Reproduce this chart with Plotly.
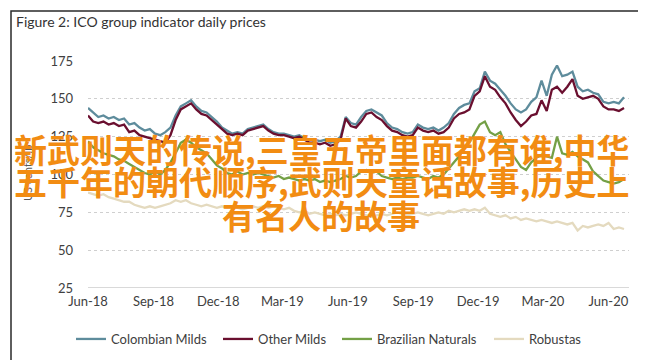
import datetime as dt
import plotly.graph_objects as go

# ---------------- data (readings, US cents/lb) ----------------
start_date = "2018-06-01"
end_date = "2020-06-23"

colombian_milds = [
    144, 141, 138, 139, 137, 138, 136, 137, 133, 134, 131, 129, 130, 127, 126, 128,
    131, 139, 145, 147, 149, 145, 142, 141, 138, 135, 131, 129, 127, 128, 127, 130,
    131, 132, 133, 130, 128, 127, 127, 126, 125, 126, 124, 123, 123, 122, 123, 121,
    122, 125, 138, 134, 133, 138, 142, 143, 141, 139, 134, 131, 130, 128, 127, 128,
    133, 131, 130, 131, 129, 131, 134, 140, 144, 146, 147, 155, 157, 168, 162, 160,
    156, 152, 147, 143, 141, 143, 148, 151, 162, 152, 166, 172, 165, 166, 168, 158,
    155, 156, 154, 153, 148, 147, 148, 147, 151,
]
other_milds = [
    139, 135, 134, 135, 133, 134, 132, 133, 128, 129, 126, 125, 124, 123, 122, 121,
    126, 136, 143, 145, 147, 143, 140, 139, 136, 133, 130, 127, 126, 127, 126, 129,
    130, 131, 132, 129, 127, 126, 126, 125, 124, 125, 123, 121, 121, 120, 121, 119,
    120, 123, 137, 132, 131, 135, 140, 141, 138, 136, 132, 129, 128, 126, 125, 126,
    131, 129, 128, 129, 127, 128, 131, 137, 140, 141, 143, 152, 155, 165, 158, 156,
    151, 147, 141, 136, 132, 135, 139, 140, 149, 142, 156, 158, 154, 158, 163, 152,
    150, 151, 152, 150, 145, 143, 143, 142, 144,
]
brazilian_naturals = [
    122, 118, 116, 114, 113, 112, 110, 109, 107, 105, 103, 101, 100, 102, 100, 103,
    108, 114, 121, 123, 121, 118, 116, 114, 110, 106, 104, 101, 100, 102, 100, 101,
    100, 101, 100, 99, 98, 99, 97, 98, 97, 96, 97, 96, 97, 95, 96, 95,
    96, 97, 99, 98, 99, 102, 103, 101, 102, 99, 98, 97, 98, 97, 98, 98,
    99, 98, 97, 99, 98, 100, 104, 108, 112, 117, 121, 127, 133, 135, 128, 126,
    128, 120, 115, 110, 105, 103, 108, 111, 113, 112, 111, 125, 114, 113, 115, 112,
    110, 108, 102, 99, 96, 95, 94, 95, 97,
]
robustas = [
    88, 87, 86, 87, 85, 84, 83, 82, 82, 80, 79, 78, 79, 78, 79, 80,
    81, 83, 82, 83, 81, 80, 79, 80, 79, 78, 79, 78, 79, 78, 77, 78,
    79, 78, 79, 78, 79, 78, 77, 78, 76, 75, 76, 74, 75, 74, 73, 74,
    73, 74, 73, 74, 75, 74, 73, 72, 73, 74, 73, 74, 75, 74, 73, 74,
    75, 74, 73, 74, 75, 74, 76, 75, 76, 77, 76, 77, 76, 78, 74, 73,
    72, 73, 71, 72, 70, 71, 70, 69, 70, 69, 68, 69, 68, 67, 68, 63,
    66, 65, 66, 67, 66, 68, 64, 65, 64,
]

series_names = ["Colombian Milds", "Other Milds", "Brazilian Naturals", "Robustas"]
series_values = [colombian_milds, other_milds, brazilian_naturals, robustas]
series_colors = ["#5e8c9c", "#6a0f2f", "#74a046", "#e4dabf"]

x_tick_dates = ["2018-06-01", "2018-09-01", "2018-12-01", "2019-03-01", "2019-06-01",
                "2019-09-01", "2019-12-01", "2020-03-01", "2020-06-01"]
x_tick_labels = ["Jun-18", "Sep-18", "Dec-18", "Mar-19", "Jun-19",
                 "Sep-19", "Dec-19", "Mar-20", "Jun-20"]
y_ticks = [25, 50, 75, 100, 125, 150, 175]

title_text = "Figure 2: ICO group indicator daily prices"
y_title = "US cents/lb"
watermark_lines = ["新武则天的传说,三皇五帝里面都有谁,中华",
                   "五千年的朝代顺序,武则天童话故事,历史上",
                   "有名人的故事"]

# ---------------- figure ----------------
W, H = 646, 360
L, R, T, B = 80, 621, 53, 280   # plot area in pixels


def px_x(p):
    return (p - L) / (R - L)


def px_y(p):
    return (B - p) / (B - T)


n = len(colombian_milds)
d0 = dt.datetime.fromisoformat(start_date)
d1 = dt.datetime.fromisoformat(end_date)
dates = [d0 + (d1 - d0) * i / (n - 1) for i in range(n)]

legend_ids = ["legend", "legend2", "legend3", "legend4"]
legend_text_starts = [108, 255, 374, 526]

fig = go.Figure()
for name, vals, col, lid in zip(series_names, series_values, series_colors, legend_ids):
    fig.add_trace(go.Scatter(x=dates, y=vals, name=name, mode="lines", legend=lid,
                             line=dict(color=col, width=2.3)))

font_fam = "Lato, 'Open Sans', sans-serif"
legend_layout = {}
for lid, st in zip(legend_ids, legend_text_starts):
    legend_layout[lid] = dict(orientation="h", x=px_x(st - 45), xanchor="left",
                              y=px_y(331), yanchor="middle", itemwidth=30,
                              font=dict(size=13, color="#404040", family=font_fam),
                              bgcolor="rgba(0,0,0,0)")

fig.update_layout(
    width=W, height=H,
    margin=dict(l=L, r=W - R, t=T, b=H - B),
    paper_bgcolor="white", plot_bgcolor="white",
    font=dict(family=font_fam, color="#404040", size=13),
    title=dict(text=title_text, x=8 / W, xanchor="left", y=1 - 14 / H, yanchor="middle",
               font=dict(size=14, color="#333333", family=font_fam)),
    showlegend=True,
    xaxis=dict(type="date", range=["2018-06-01", "2020-06-30"],
               tickvals=x_tick_dates, ticktext=x_tick_labels,
               showgrid=False, zeroline=False, showline=False,
               ticks="", ticklabelstandoff=4,
               tickfont=dict(size=13, color="#404040")),
    yaxis=dict(range=[25, 175], tickvals=y_ticks, showgrid=True, gridcolor="#cfcfcf",
               griddash="dot", gridwidth=1, zeroline=False, showline=False, ticks="",
               ticklabelstandoff=14, tickfont=dict(size=13, color="#404040")),
    **legend_layout,
)

# solid baseline at 25
fig.add_shape(type="line", xref="paper", yref="y", x0=0, x1=1, y0=25, y1=25,
              line=dict(color="#d9d9d9", width=2), layer="below")

# outer frame
fig.add_shape(type="rect", xref="paper", yref="paper",
              x0=px_x(3), x1=px_x(638), y0=px_y(355), y1=px_y(3),
              line=dict(color="#2a2a2a", width=1.5))

# y-axis title
fig.add_annotation(text=y_title, xref="paper", yref="paper", x=px_x(19), y=px_y(165),
                   xanchor="center", yanchor="middle",
                   textangle=-90, showarrow=False, font=dict(size=11, color="#595959"))

# watermark text
wm_y = [141, 173, 207]
for line, yy in zip(watermark_lines, wm_y):
    fig.add_annotation(text="<b>" + line + "</b>", xref="paper", yref="paper",
                       x=px_x(313), y=px_y(yy), xanchor="center", yanchor="middle",
                       showarrow=False,
                       font=dict(size=33, color="#f28c12", family="Noto Sans CJK SC"))

fig.write_html("out.html")
